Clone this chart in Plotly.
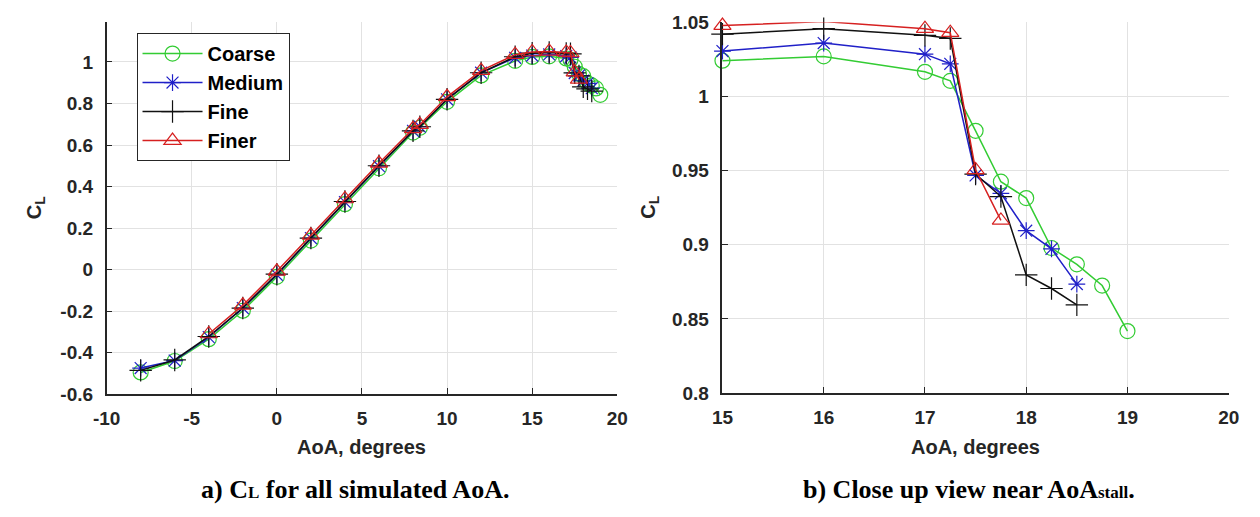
import plotly.graph_objects as go

# ---------------- data ----------------
aoa_coarse = [-8, -6, -4, -2, 0, 2, 4, 6, 8, 8.4, 10, 12, 14, 15, 16, 17, 17.25, 17.5, 17.75, 18, 18.25, 18.5, 18.75, 19]
cl_coarse = [-0.495, -0.44, -0.335, -0.198, -0.035, 0.14, 0.315, 0.488, 0.66, 0.683, 0.808, 0.935, 1.005,
             1.0241, 1.027, 1.0166, 1.0105, 0.9768, 0.9425, 0.9315, 0.8978, 0.8868, 0.8725, 0.8418]

aoa_medium = [-8, -6, -4, -2, 0, 2, 4, 6, 8, 8.4, 10, 12, 14, 15, 16, 17, 17.25, 17.5, 17.75, 18, 18.25, 18.5]
cl_medium = [-0.474, -0.438, -0.325, -0.185, -0.025, 0.152, 0.325, 0.498, 0.668, 0.688, 0.82, 0.948, 1.02,
             1.0306, 1.036, 1.0285, 1.022, 0.9467, 0.9347, 0.9095, 0.8972, 0.8735]

aoa_fine = [-8, -6, -4, -2, 0, 2, 4, 6, 8, 8.4, 10, 12, 14, 15, 16, 17, 17.25, 17.5, 17.75, 18, 18.25, 18.5]
cl_fine = [-0.485, -0.435, -0.322, -0.185, -0.022, 0.152, 0.328, 0.5, 0.668, 0.688, 0.82, 0.948, 1.025,
           1.042, 1.0457, 1.0412, 1.0391, 0.9476, 0.9325, 0.8797, 0.8705, 0.8595]

aoa_finer = [-4, -2, 0, 2, 4, 6, 8, 8.4, 10, 12, 14, 15, 16, 17, 17.25, 17.5, 17.75]
cl_finer = [-0.31, -0.172, -0.008, 0.165, 0.34, 0.512, 0.678, 0.698, 0.832, 0.958, 1.035,
            1.0478, 1.0505, 1.0457, 1.043, 0.9505, 0.9164]

series_names = ["Coarse", "Medium", "Fine", "Finer"]

# tick labels
left_xticks = [-10, -5, 0, 5, 10, 15, 20]
left_xlabels = ["-10", "-5", "0", "5", "10", "15", "20"]
left_yticks = [-0.6, -0.4, -0.2, 0, 0.2, 0.4, 0.6, 0.8, 1.0]
left_ylabels = ["-0.6", "-0.4", "-0.2", "0", "0.2", "0.4", "0.6", "0.8", "1"]
right_xticks = [15, 16, 17, 18, 19, 20]
right_xlabels = ["15", "16", "17", "18", "19", "20"]
right_yticks = [0.8, 0.85, 0.9, 0.95, 1.0, 1.05]
right_ylabels = ["0.8", "0.85", "0.9", "0.95", "1", "1.05"]

# ---------------- styling ----------------
W, H = 1260, 517
colors = ["#33cc33", "#2020c8", "#111111", "#d62020"]
symbols = ["circle-open", "asterisk-open", "cross-thin-open", "triangle-up-open"]
msizes = [15, 14, 16, 15]
AX = "#262626"
GRID = "#e2e2e2"
SANS = "Liberation Sans, Arial, sans-serif"
SERIF = "Liberation Serif, Times New Roman, serif"

data = [(aoa_coarse, cl_coarse), (aoa_medium, cl_medium), (aoa_fine, cl_fine), (aoa_finer, cl_finer)]

fig = go.Figure()
for xa, ya, show in [("x", "y", True), ("x2", "y2", False)]:
    for i, (xs, ys) in enumerate(data):
        fig.add_trace(go.Scatter(
            x=xs, y=ys, mode="lines+markers", name=series_names[i],
            xaxis=xa, yaxis=ya, showlegend=show, cliponaxis=False,
            line=dict(color=colors[i], width=1.5),
            marker=dict(symbol=symbols[i], size=msizes[i], color=colors[i],
                        line=dict(width=1.2, color=colors[i])),
        ))

def px_x(p):
    return p / W

def px_y(p):
    return 1 - p / H

tickfont = dict(family=SANS, size=19, color=AX, weight="bold")
common = dict(showgrid=True, gridcolor=GRID, gridwidth=1, zeroline=False, showline=True,
              linecolor=AX, linewidth=1.5, ticks="inside", ticklen=6, tickcolor=AX,
              tickwidth=1.2, tickfont=tickfont, mirror=False)

fig.update_layout(
    width=W, height=H,
    margin=dict(l=0, r=0, t=0, b=0),
    paper_bgcolor="white", plot_bgcolor="white",
    xaxis=dict(domain=[px_x(94.5), px_x(615.5)], range=[-10, 20], tickmode="array",
               tickvals=left_xticks, ticktext=left_xlabels, anchor="y", ticklabelstandoff=6, **common),
    yaxis=dict(domain=[px_y(400.5), px_y(13)], range=[-0.6, 1.19], tickmode="array",
               tickvals=left_yticks, ticktext=left_ylabels, anchor="x", ticklabelstandoff=8, **common),
    xaxis2=dict(domain=[px_x(722.8), px_x(1239.3)], range=[15, 20], tickmode="array",
                tickvals=right_xticks, ticktext=right_xlabels, anchor="y2", ticklabelstandoff=6, **common),
    yaxis2=dict(domain=[px_y(399.3), px_y(12.8)], range=[0.8, 1.05], tickmode="array",
                tickvals=right_yticks, ticktext=right_ylabels, anchor="x2", ticklabelstandoff=8, **common),
    legend=dict(x=px_x(125), y=px_y(24), xanchor="left", yanchor="top", xref="paper", yref="paper",
                bgcolor="white", bordercolor=AX, borderwidth=1,
                font=dict(family=SANS, size=20, color="black", weight="bold"),
                itemwidth=60, tracegroupgap=0),
    showlegend=True,
)

ann = []
title_font = dict(family=SANS, size=20, color=AX, weight="bold")
ann.append(dict(text="AoA, degrees", x=px_x(355), y=px_y(455), xref="paper", yref="paper",
                showarrow=False, font=title_font, xanchor="center", yanchor="middle"))
ann.append(dict(text="AoA, degrees", x=px_x(981), y=px_y(455), xref="paper", yref="paper",
                showarrow=False, font=title_font, xanchor="center", yanchor="middle"))
ann.append(dict(text="C<sub>L</sub>", x=px_x(22), y=px_y(206), xref="paper", yref="paper",
                showarrow=False, font=title_font, textangle=-90, xanchor="center", yanchor="middle"))
ann.append(dict(text="C<sub>L</sub>", x=px_x(648), y=px_y(206), xref="paper", yref="paper",
                showarrow=False, font=title_font, textangle=-90, xanchor="center", yanchor="middle"))
cap_font = dict(family=SERIF, size=26, color="black", weight="bold")
ann.append(dict(text="a) C<span style='font-size:17px'>L</span> for all simulated AoA.",
                x=px_x(348), y=px_y(500), xref="paper", yref="paper", showarrow=False,
                font=cap_font, xanchor="center", yanchor="middle"))
ann.append(dict(text="b) Close up view near AoA<span style='font-size:17px'>stall</span>.",
                x=px_x(974), y=px_y(500), xref="paper", yref="paper", showarrow=False,
                font=cap_font, xanchor="center", yanchor="middle"))
fig.update_layout(annotations=ann)

fig.write_html("out.html")
